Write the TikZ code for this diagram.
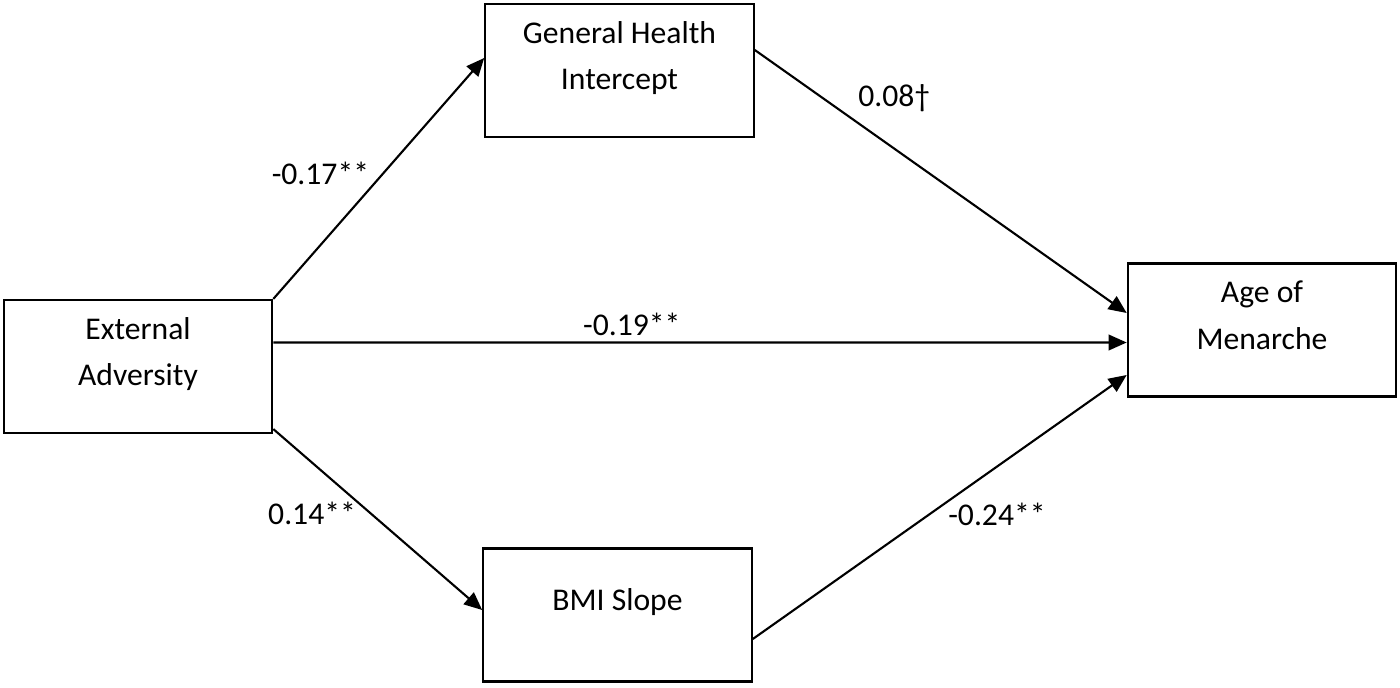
\documentclass[tikz,border=0pt]{standalone}
\usepackage{fontspec}
\setmainfont{Carlito}
\usepackage{tikz}
\usetikzlibrary{arrows.meta, positioning}

\begin{document}
\begin{tikzpicture}[
    box/.style={draw, line width=1.2pt, minimum width=5.37cm, minimum height=2.66cm,
                align=center, text depth=0.6cm},
    every node/.style={font=\fontsize{18}{26.7}\selectfont},
    >={Triangle[length=0.36cm, width=0.31cm]},
    line width=1.2pt]
    \useasboundingbox (0,0) rectangle (28,-13.74);

    \node[box] (EA)  at (2.76,-7.33)  {External\\Adversity};
    \node[box] (GHI) at (12.39,-1.41) {General Health\\Intercept};
    \node[box] (BMI) at (12.35,-12.30) {BMI Slope};
    \node[box] (AoM) at (25.24,-6.60) {Age of\\Menarche};

    % Paths
    \draw[->] (EA.north east) -- node[pos=0.52, left=4pt] {-0.17**} ([yshift=0.25cm]GHI.west);
    \draw[->] ([yshift=0.48cm]EA.east) -- node[pos=0.42, above] {-0.19**} ([yshift=-0.25cm]AoM.west);
    \draw[->] ([yshift=0.1cm]EA.south east) -- node[pos=0.40, anchor=north east, inner sep=0pt] {0.14**} ([yshift=0.1cm]BMI.west);
    \draw[->] ([yshift=0.41cm]GHI.east) -- node[pos=0.26, above right] {0.08†} ([yshift=0.34cm]AoM.west);
    \draw[->] ([yshift=-0.48cm]BMI.east) -- node[pos=0.52, anchor=north west, inner sep=0pt] {-0.24**} ([yshift=-0.9cm]AoM.west);
  \end{tikzpicture}
\end{document}
